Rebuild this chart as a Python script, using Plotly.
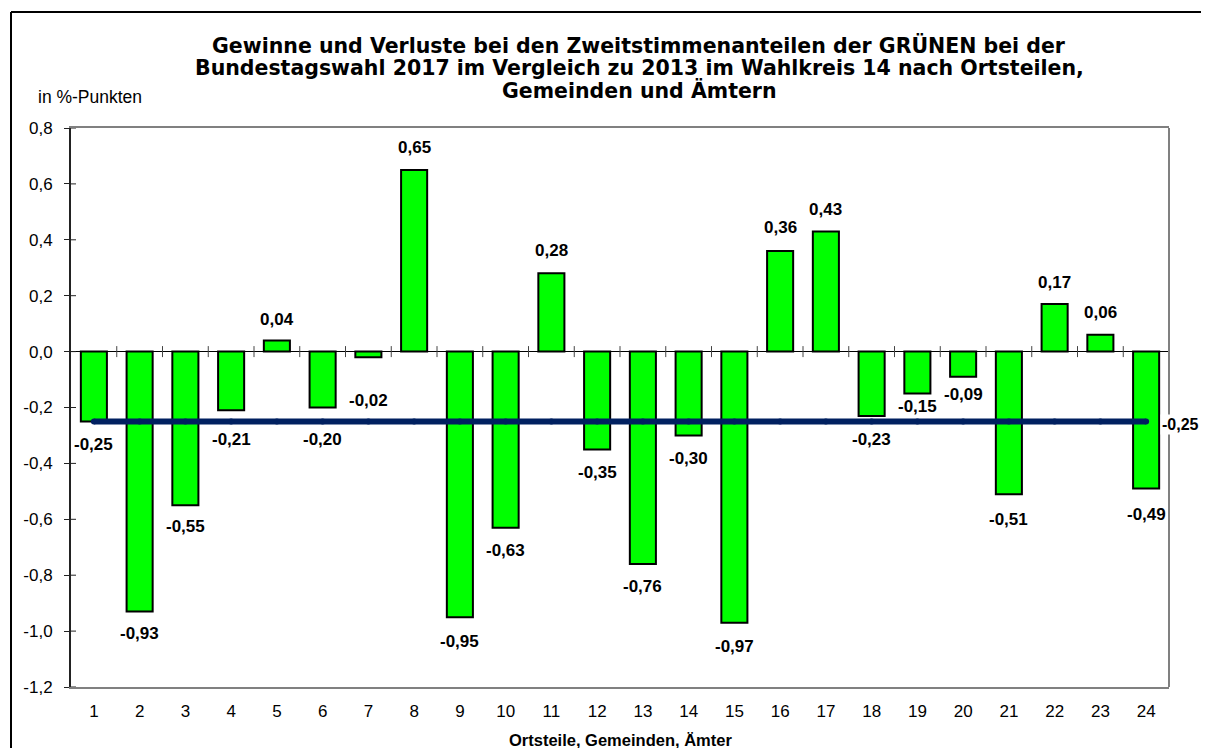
import plotly.graph_objects as go

# ---- data ----
categories = [str(i) for i in range(1, 25)]
changes = [-0.25, -0.93, -0.55, -0.21, 0.04, -0.20, -0.02, 0.65, -0.95, -0.63, 0.28, -0.35,
           -0.76, -0.30, -0.97, 0.36, 0.43, -0.23, -0.15, -0.09, -0.51, 0.17, 0.06, -0.49]
average = [-0.25] * 24
y_tickvals = [0.8, 0.6, 0.4, 0.2, 0.0, -0.2, -0.4, -0.6, -0.8, -1.0, -1.2]
y_ticktext = ["0,8", "0,6", "0,4", "0,2", "0,0", "-0,2", "-0,4", "-0,6", "-0,8", "-1,0", "-1,2"]
title_lines = [
    "Gewinne und Verluste bei den Zweitstimmenanteilen der GRÜNEN bei der",
    "Bundestagswahl 2017 im Vergleich zu 2013 im Wahlkreis 14 nach Ortsteilen,",
    "Gemeinden und Ämtern",
]
y_title = "in %-Punkten"
x_title = "Ortsteile, Gemeinden, Ämter"

# label pixel offsets from the bar end (layout only)
label_shift = [23, 22, 21, 29, 21, 32, 43, 22, 24, 23, 23, 23,
               22, 23, 24, 23, 22, 24, 13, 18, 25, 22, 22, 26]

# the page adds an 8px body margin on every side; keep the page inside the 1209x756 window
OFF = 8
W, H = 1209 - 2 * OFF, 756 - 2 * OFF
# plot area in window pixels: x 71..1169, y 128..687
SX0, SX1, SY0, SY1 = 71, 1169, 128, 687
ML, MR, MT, MB = SX0 - OFF, W - (SX1 - OFF), SY0 - OFF, H - (SY1 - OFF)
PW, PH = SX1 - SX0, SY1 - SY0
YMIN, YMAX = -1.2, 0.8
px_per_y = PH / (YMAX - YMIN)
px_per_x = PW / 24.0


def paper_x(sx):
    return (sx - SX0) / PW


def paper_y(sy):
    return (SY1 - sy) / PH


xs = list(range(1, 25))
FONT = "Arial, Liberation Sans, sans-serif"


def fmt(v):
    return f"{v:.2f}".replace(".", ",")


fig = go.Figure()

fig.add_trace(go.Bar(
    x=xs, y=changes, width=0.57,
    marker=dict(color="#00FF00", line=dict(color="black", width=2)),
    hoverinfo="skip", showlegend=False,
))

# tick marks crossing the zero line at category boundaries
tx, ty = [], []
dy = 5.5 / px_per_y
for i in range(1, 25):
    b = i + 0.5
    tx += [b, b, None]
    ty += [-dy, dy, None]
fig.add_trace(go.Scatter(x=tx, y=ty, mode="lines", line=dict(color="#444444", width=1),
                         hoverinfo="skip", showlegend=False))

# inner part of y-axis cross ticks
ix, iy = [], []
dx = 5 / px_per_x
for v in y_tickvals:
    ix += [0.5, 0.5 + dx, None]
    iy += [v, v, None]
fig.add_trace(go.Scatter(x=ix, y=iy, mode="lines", line=dict(color="#222222", width=1),
                         hoverinfo="skip", showlegend=False))

# average line
fig.add_trace(go.Scatter(
    x=xs, y=average, mode="lines+markers",
    line=dict(color="#002060", width=6),
    marker=dict(color="#002060", size=6),
    hoverinfo="skip", showlegend=False,
))

annotations = []
for x, v, s in zip(xs, changes, label_shift):
    annotations.append(dict(
        x=x, y=v, xref="x", yref="y", text=f"<b>{fmt(v)}</b>", showarrow=False,
        yshift=(s if v > 0 else -s), xanchor="center", yanchor="middle",
        font=dict(family=FONT, size=17, color="black"),
    ))

# average label on the right
annotations.append(dict(
    x=paper_x(1201), y=average[-1], xref="paper", yref="y", text=f"<b>{fmt(average[-1])}</b>",
    showarrow=False, xanchor="right", yanchor="middle", yshift=-3, xshift=0,
    bgcolor="white", borderpad=1,
    font=dict(family=FONT, size=16, color="black"),
))

# title, one annotation per line
for sy, line in zip([45, 67.5, 90], title_lines):
    annotations.append(dict(
        x=paper_x(639), y=paper_y(sy), xref="paper", yref="paper",
        text=f"<b>{line}</b>", showarrow=False, xanchor="center", yanchor="middle",
        font=dict(family="DejaVu Sans, sans-serif", size=20.5, color="black"),
    ))
annotations.append(dict(
    x=paper_x(36), y=paper_y(97), xref="paper", yref="paper",
    text=y_title, showarrow=False, xanchor="left", yanchor="middle",
    font=dict(family=FONT, size=17.5, color="black"),
))
annotations.append(dict(
    x=paper_x(620), y=paper_y(740), xref="paper", yref="paper",
    text=f"<b>{x_title}</b>", showarrow=False, xanchor="center", yanchor="middle",
    font=dict(family=FONT, size=16.5, color="black"),
))

shapes = [
    # right plot border (gray)
    dict(type="line", xref="paper", yref="paper", x0=1, x1=1, y0=0, y1=1,
         line=dict(color="#808080", width=2)),
    # outer chart border: top and left edges (the others lie outside the window)
    dict(type="line", xref="paper", yref="paper",
         x0=paper_x(11), x1=paper_x(1215), y0=paper_y(12), y1=paper_y(12),
         line=dict(color="black", width=2), layer="below"),
    dict(type="line", xref="paper", yref="paper",
         x0=paper_x(11), x1=paper_x(11), y0=paper_y(12), y1=paper_y(770),
         line=dict(color="black", width=2), layer="below"),
]

fig.update_layout(
    width=W, height=H, autosize=False,
    margin=dict(l=ML, r=MR, t=MT, b=MB, pad=0),
    paper_bgcolor="white", plot_bgcolor="white",
    font=dict(family=FONT, size=17, color="black"),
    annotations=annotations,
    shapes=shapes,
    xaxis=dict(
        range=[0.5, 24.5], tickvals=xs, ticktext=categories, ticks="",
        showline=True, mirror=True, linecolor="#808080", linewidth=2,
        showgrid=False, zeroline=False, ticklabelstandoff=8,
        tickfont=dict(size=17),
    ),
    yaxis=dict(
        range=[YMIN, YMAX], tickvals=y_tickvals, ticktext=y_ticktext,
        ticks="outside", ticklen=5, tickcolor="#222222", tickwidth=1,
        showline=True, linecolor="#222222", linewidth=2,
        showgrid=False, zeroline=True, zerolinecolor="black", zerolinewidth=1,
        ticklabelstandoff=8, tickfont=dict(size=17),
    ),
)

fig.write_html("out.html")
